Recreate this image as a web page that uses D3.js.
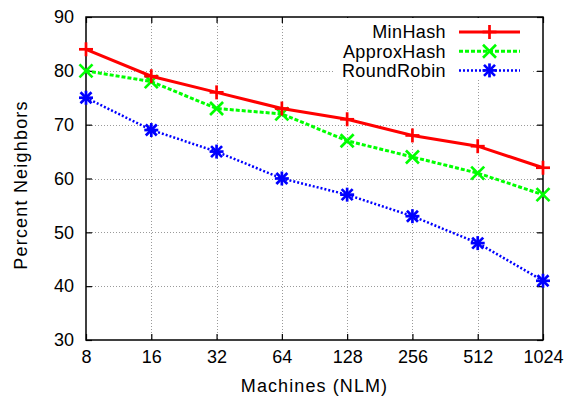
<!DOCTYPE html>
<html><head><meta charset="utf-8">
<script src="https://cdn.jsdelivr.net/npm/d3@7"></script>
<style>body{margin:0;background:#fff}svg{display:block}text{font-family:"Liberation Sans",Arial,sans-serif}</style>
</head><body>
<script>
const machines = ["8","16","32","64","128","256","512","1024"];
const minHash = [84,79,76,73,71,68,66,62];
const approxHash = [80,78,73,72,67,64,61,57];
const roundRobin = [75,69,65,60,57,53,48,41];
const yTicks = [30,40,50,60,70,80,90];
const seriesNames = ["MinHash","ApproxHash","RoundRobin"];

const W=569,H=396;
const m={l:86,r:26,t:17,b:56};
const svg=d3.select("body").append("svg").attr("width",W).attr("height",H);
const x=d3.scalePoint().domain(machines).range([m.l,W-m.r]);
const y=d3.scaleLinear().domain([30,90]).range([H-m.b,m.t]);
const L=m.l,R=W-m.r,T=m.t,B=H-m.b;

// grid
const grid=svg.append("g").attr("stroke","#9a9a9a").attr("stroke-width",1).attr("stroke-dasharray","1,2");
machines.slice(1,-1).forEach(d=>grid.append("line").attr("x1",Math.round(x(d))+0.5).attr("x2",Math.round(x(d))+0.5).attr("y1",T).attr("y2",B));
yTicks.slice(1,-1).forEach(v=>grid.append("line").attr("x1",L).attr("x2",R).attr("y1",Math.round(y(v))+0.5).attr("y2",Math.round(y(v))+0.5));

// axes
const fs=18;
const ax=svg.append("g").attr("transform",`translate(0,${B})`).call(d3.axisBottom(x).tickSize(-6).tickPadding(12));
const ay=svg.append("g").attr("transform",`translate(${L},0)`).call(d3.axisLeft(y).tickValues(yTicks).tickSize(-6).tickPadding(12));
const at=svg.append("g").attr("transform",`translate(0,${T})`).call(d3.axisTop(x).tickSize(-6).tickFormat(""));
const ar=svg.append("g").attr("transform",`translate(${R},0)`).call(d3.axisRight(y).tickValues(yTicks).tickSize(-6).tickFormat(""));
[ax,ay,at,ar].forEach(g=>{g.select(".domain").remove();g.selectAll("line").attr("stroke","#000").attr("stroke-width",1.2);g.selectAll("text").attr("font-size",fs).attr("fill","#000").style("font-family","Liberation Sans, Arial, sans-serif");});
ax.selectAll("text").attr("dy","0.6em");

// legend background
svg.append("rect").attr("x",333).attr("y",T+1).attr("width",199).attr("height",62).attr("fill","#fff");

svg.append("rect").attr("x",L).attr("y",T).attr("width",R-L).attr("height",B-T).attr("fill","none").attr("stroke","#000").attr("stroke-width",1.5);

const series=[
 {name:seriesNames[0],vals:minHash,color:"#ff0000",dash:null,w:3,marker:"plus"},
 {name:seriesNames[1],vals:approxHash,color:"#00ff00",dash:"4,2",w:3,marker:"cross"},
 {name:seriesNames[2],vals:roundRobin,color:"#0000ff",dash:"2,2",w:2.5,marker:"star"}
];
function drawMarker(g,type,cx,cy,color){
  const s=7,c=6.5;
  const p=g.append("g").attr("stroke",color).attr("stroke-width",2.7);
  if(type==="plus"||type==="star"){
    p.append("line").attr("x1",cx-s).attr("x2",cx+s).attr("y1",cy).attr("y2",cy);
    p.append("line").attr("x1",cx).attr("x2",cx).attr("y1",cy-s).attr("y2",cy+s);
  }
  if(type==="cross"||type==="star"){
    const k=type==="star"?5.5:c;
    p.append("line").attr("x1",cx-k).attr("x2",cx+k).attr("y1",cy-k).attr("y2",cy+k);
    p.append("line").attr("x1",cx-k).attr("x2",cx+k).attr("y1",cy+k).attr("y2",cy-k);
  }
}
const line=d3.line().x((d,i)=>x(machines[i])).y(d=>y(d));
series.slice().reverse().forEach(s=>{
  svg.append("path").datum(s.vals).attr("d",line).attr("fill","none").attr("stroke",s.color).attr("stroke-width",s.w).attr("stroke-dasharray",s.dash);
  s.vals.forEach((v,i)=>drawMarker(svg,s.marker,x(machines[i]),y(v),s.color));
});

// legend
series.forEach((s,i)=>{
  const ly=32+i*19.2;
  svg.append("text").attr("x",446).attr("y",ly).attr("dy","0.35em").attr("text-anchor","end").attr("font-size",18).attr("letter-spacing","0.4px").text(s.name);
  svg.append("line").attr("x1",459).attr("x2",520).attr("y1",ly).attr("y2",ly).attr("stroke",s.color).attr("stroke-width",s.w).attr("stroke-dasharray",s.dash);
  drawMarker(svg,s.marker,489.5,ly,s.color);
});

svg.append("text").attr("x",(L+R)/2).attr("y",392).attr("text-anchor","middle").attr("font-size",18).attr("letter-spacing","1.1px").text("Machines (NLM)");
svg.append("text").attr("transform",`translate(27,${185}) rotate(-90)`).attr("text-anchor","middle").attr("font-size",18).attr("letter-spacing","1.2px").text("Percent Neighbors");
</script>
</body></html>
